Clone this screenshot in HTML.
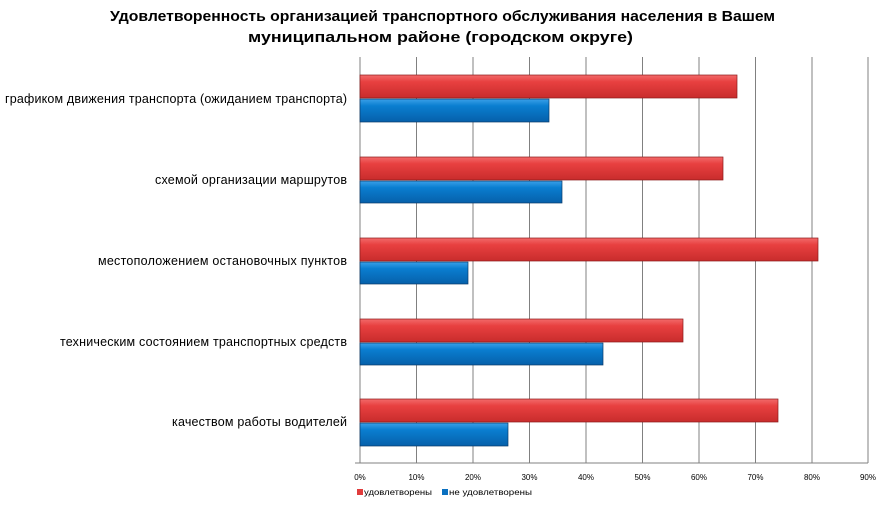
<!DOCTYPE html><html><head><meta charset="utf-8"><style>body{margin:0;background:#fff}</style></head><body>
<svg width="883" height="506" xmlns="http://www.w3.org/2000/svg" font-family="Liberation Sans, sans-serif">
<defs>
<linearGradient id="r" x1="0" y1="0" x2="0" y2="1"><stop offset="0" stop-color="#f26a6a"/><stop offset="0.3" stop-color="#e84040"/><stop offset="1" stop-color="#c82c2c"/></linearGradient>
<linearGradient id="b" x1="0" y1="0" x2="0" y2="1"><stop offset="0" stop-color="#3aa0e8"/><stop offset="0.3" stop-color="#0a7ed0"/><stop offset="1" stop-color="#0660aa"/></linearGradient>
</defs>
<text x="110" y="21" textLength="665" lengthAdjust="spacingAndGlyphs" font-size="15" font-weight="bold" fill="#000">Удовлетворенность организацией транспортного обслуживания населения в Вашем</text>
<text x="248" y="42" textLength="385" lengthAdjust="spacingAndGlyphs" font-size="15" font-weight="bold" fill="#000">муниципальном районе (городском округе)</text>
<g stroke="#808080" stroke-width="1">
<line x1="416.5" y1="57" x2="416.5" y2="463"/><line x1="473" y1="57" x2="473" y2="463"/><line x1="529.5" y1="57" x2="529.5" y2="463"/><line x1="586" y1="57" x2="586" y2="463"/><line x1="642.5" y1="57" x2="642.5" y2="463"/><line x1="699" y1="57" x2="699" y2="463"/><line x1="755.5" y1="57" x2="755.5" y2="463"/><line x1="812" y1="57" x2="812" y2="463"/><line x1="868" y1="57" x2="868" y2="463"/>
<line x1="360" y1="57" x2="360" y2="463"/><line x1="355" y1="463" x2="868" y2="463"/>
</g>
<g stroke="#8a1a1a" stroke-width="0.7">
<rect x="360" y="75" width="377" height="23" fill="url(#r)"/>
<rect x="360" y="157" width="363" height="23" fill="url(#r)"/>
<rect x="360" y="238" width="458" height="23" fill="url(#r)"/>
<rect x="360" y="319" width="323" height="23" fill="url(#r)"/>
<rect x="360" y="399" width="418" height="23" fill="url(#r)"/>
</g>
<g stroke="#0a3a6a" stroke-width="0.7">
<rect x="360" y="99" width="189" height="23" fill="url(#b)"/>
<rect x="360" y="181" width="202" height="22" fill="url(#b)"/>
<rect x="360" y="262" width="108" height="22" fill="url(#b)"/>
<rect x="360" y="343" width="243" height="22" fill="url(#b)"/>
<rect x="360" y="423" width="148" height="23" fill="url(#b)"/>
</g>
<g font-size="12.5" fill="#000" lengthAdjust="spacingAndGlyphs">
<text x="5" y="103" textLength="342">графиком движения транспорта (ожиданием транспорта)</text>
<text x="155" y="184" textLength="192">схемой организации маршрутов</text>
<text x="98" y="265" textLength="249">местоположением остановочных пунктов</text>
<text x="60" y="346" textLength="287">техническим состоянием транспортных средств</text>
<text x="172" y="426" textLength="175">качеством работы водителей</text>
</g>
<g font-size="8" fill="#000" text-anchor="middle">
<text x="360" y="480">0%</text><text x="416.5" y="480">10%</text><text x="473" y="480">20%</text><text x="529.5" y="480">30%</text><text x="586" y="480">40%</text><text x="642.5" y="480">50%</text><text x="699" y="480">60%</text><text x="755.5" y="480">70%</text><text x="812" y="480">80%</text><text x="868" y="480">90%</text>
</g>
<rect x="357" y="489" width="6" height="6" fill="#e03c3c"/>
<text x="364" y="495" font-size="8" textLength="68" lengthAdjust="spacingAndGlyphs">удовлетворены</text>
<rect x="442" y="489" width="6" height="6" fill="#0a70c0"/>
<text x="449" y="495" font-size="8" textLength="83" lengthAdjust="spacingAndGlyphs">не удовлетворены</text>
</svg>
</body></html>
